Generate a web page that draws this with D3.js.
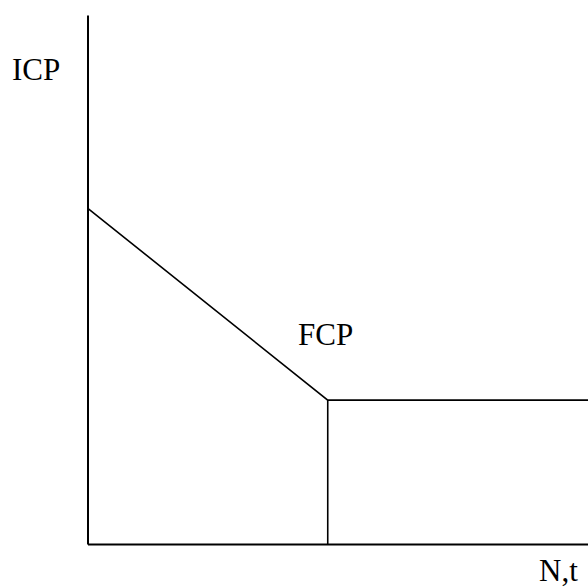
<!doctype html>
<html>
<head>
    <script src="https://d3js.org/d3.v7.min.js"></script>
    <style>
        body { margin: 0; background: white; }
    </style>
</head>
<body>
<div id="chart"></div>
<script>
    // curve points (arbitrary units, 0..100 on both axes)
    var curveX = [0, 48, 100];
    var curveY = [63.5, 27.2, 27.2];
    // drop line from the knee to the x axis
    var dropX = [48, 48];
    var dropY = [27.2, 0];
    var labels = ["ICP", "FCP", "N,t"];

    var width = 588, height = 587;
    var serif = "Tinos, 'Liberation Serif', 'DejaVu Serif', 'Times New Roman', Times, serif";

    var svg = d3.select("#chart")
        .append("svg")
        .attr("width", width)
        .attr("height", height);

    var x = d3.scaleLinear().domain([0, 100]).range([87.5, 588]);
    var y = d3.scaleLinear().domain([0, 100]).range([544, 15]);

    // axes (plain lines, no ticks)
    svg.append("g")
        .attr("transform", "translate(0," + y(0) + ")")
        .call(d3.axisBottom(x).ticks(0).tickSize(0))
        .call(function (g) { g.select(".domain").attr("stroke", "#000").attr("stroke-width", 2); });
    svg.append("g")
        .attr("transform", "translate(" + x(0) + ",0)")
        .call(d3.axisLeft(y).ticks(0).tickSize(0))
        .call(function (g) { g.select(".domain").attr("stroke", "#000").attr("stroke-width", 2); });

    var line = d3.line()
        .x(function (d) { return x(d[0]); })
        .y(function (d) { return y(d[1]); });

    svg.append("path")
        .datum(d3.zip(curveX, curveY))
        .attr("d", line)
        .attr("fill", "none")
        .attr("stroke", "#000")
        .attr("stroke-width", 1.6);

    svg.append("path")
        .datum(d3.zip(dropX, dropY))
        .attr("d", line)
        .attr("fill", "none")
        .attr("stroke", "#000")
        .attr("stroke-width", 1.6);

    // labels
    var pos = [[12, 80], [298, 345], [539, 581]];
    svg.selectAll(".lbl")
        .data(labels)
        .enter()
        .append("text")
        .attr("class", "lbl")
        .attr("x", function (d, i) { return pos[i][0]; })
        .attr("y", function (d, i) { return pos[i][1]; })
        .style("font-family", serif)
        .attr("font-size", 31)
        .attr("fill", "#000")
        .text(function (d) { return d; });
</script>
</body>
</html>
